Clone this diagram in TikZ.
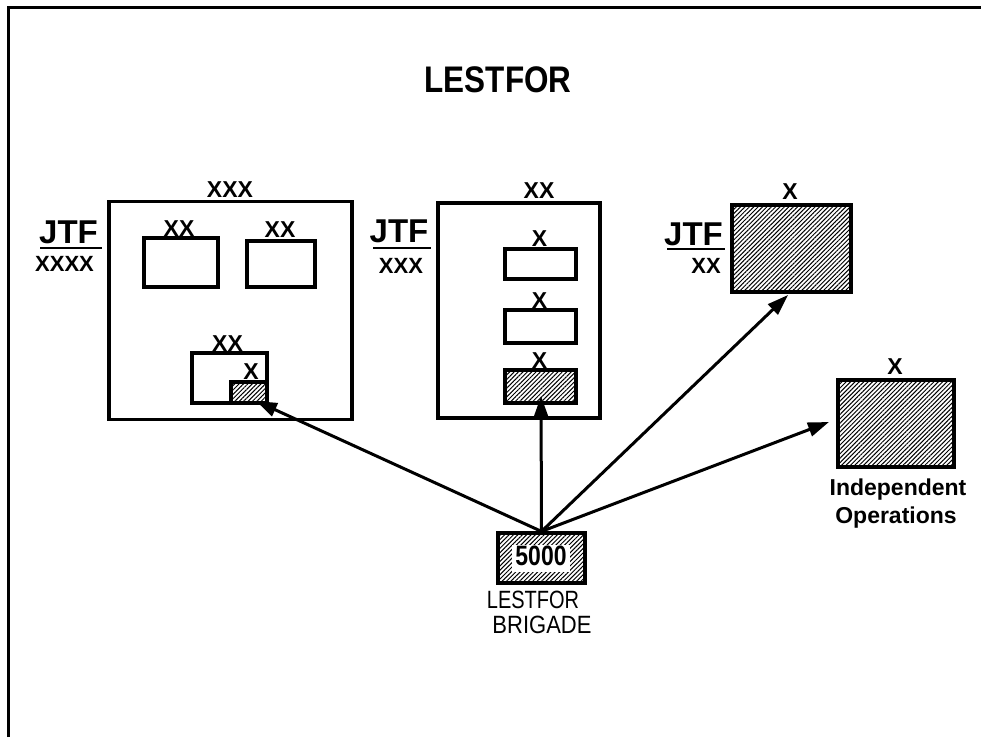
\documentclass[tikz,border=0pt]{standalone}
\usepackage{fontspec}
\usepackage{graphicx}
\setmainfont{Liberation Sans}
\usetikzlibrary{arrows.meta,patterns.meta}
\newcommand\nx[2]{\scalebox{#1}[1]{#2}}
\begin{document}
\begin{tikzpicture}[x=1pt,y=-1pt,
  box/.style={draw,line width=3.2pt,inner sep=0pt,fill=white},
  hbox/.style={box,pattern={Lines[angle=45,distance=3.1pt,line width=1pt]}},
  echelon/.style={inner sep=0pt,font=\fontsize{23}{23}\selectfont\bfseries},
  jtf/.style={inner sep=0pt,anchor=base,font=\fontsize{33}{33}\selectfont\bfseries},
  sub/.style={inner sep=0pt,font=\fontsize{22}{22}\selectfont\bfseries},
  uline/.style={line width=2.6pt},
  arr/.style={line width=3pt,-{Triangle[length=21pt,width=14pt]}},
  txt/.style={inner sep=0pt,anchor=base,font=\fontsize{23}{23}\selectfont\bfseries},
  brl/.style={inner sep=0pt,anchor=base,font=\fontsize{25}{25}\selectfont}]
\useasboundingbox (0,0) rectangle (981,737);
% frame
\draw[line width=3pt] (8,737) -- (8,7) -- (981,7);
% title
\node[inner sep=0pt,anchor=base,font=\fontsize{37}{37}\selectfont\bfseries] (title) at (498,92) {\nx{0.85}{LESTFOR}};
% ---- box 1
\node[box,minimum width=243pt,minimum height=218pt] (b1) at (230.5,310.5) {};
\node[echelon] (b1l) at (230,190) {XXX};
\node[jtf] (j1) at (68.5,243) {JTF};
\draw[uline] (40,248) -- (102,248);
\node[sub] (j1s) at (64.5,264) {XXXX};
\node[box,minimum width=74pt,minimum height=49pt] (d1) at (181,262.5) {};
\node[echelon] (d1l) at (179,229) {XX};
\node[box,minimum width=68pt,minimum height=46pt] (d2) at (281,264) {};
\node[echelon] (d2l) at (280,230) {XX};
\node[box,minimum width=75pt,minimum height=50pt] (d3) at (229.5,378) {};
\node[echelon] (d3l) at (227.5,344) {XX};
\node[hbox,minimum width=36pt,minimum height=21pt] (hs) at (249,392.5) {};
\node[echelon] (hsl) at (251,372) {X};
% ---- box 2
\node[box,minimum width=162pt,minimum height=215pt] (b2) at (519,310.5) {};
\node[echelon] (b2l) at (539,191) {XX};
\node[jtf] (j2) at (399,242) {JTF};
\draw[uline] (373,248) -- (431,248);
\node[sub] (j2s) at (401,266) {XXX};
\node[box,minimum width=71pt,minimum height=30pt] (ba) at (540.5,264) {};
\node[echelon] (bal) at (539.5,239) {X};
\node[box,minimum width=71pt,minimum height=33pt] (bb) at (540.5,326.5) {};
\node[echelon] (bbl) at (539.5,301) {X};
\node[hbox,minimum width=71pt,minimum height=33pt] (bc) at (540.5,386.5) {};
\node[echelon] (bcl) at (539.5,361) {X};
% ---- box 3
\node[hbox,minimum width=119pt,minimum height=87pt] (b3) at (791.5,248.5) {};
\node[echelon] (b3l) at (790,192) {X};
\node[jtf] (j3) at (693.5,245) {JTF};
\draw[uline] (667,249) -- (725,249);
\node[sub] (j3s) at (706,266) {XX};
% ---- box 4
\node[hbox,minimum width=116pt,minimum height=87pt] (b4) at (896,423.5) {};
\node[echelon] (b4l) at (895,366.5) {X};
\node[txt] (ind) at (898,495) {Independent};
\node[txt] (ops) at (896,523) {Operations};
% ---- brigade
\node[hbox,minimum width=87pt,minimum height=50pt] (brig) at (541.5,558) {};
\node[fill=white,inner sep=0pt,minimum width=58pt,minimum height=27pt] (numbg) at (541,558) {};
\node[inner sep=0pt,font=\fontsize{28}{28}\selectfont\bfseries] (num) at (541,556) {\nx{0.82}{5000}};
\node[brl] (bl1) at (533,608) {\nx{0.8}{LESTFOR}};
\node[brl] (bl2) at (542,633) {\nx{0.88}{BRIGADE}};
% ---- arrows
\coordinate (t1) at (256,401);
\coordinate (t2) at (541,396);
\coordinate (t3) at (788,295);
\coordinate (t4) at (829,422);
\draw[arr] (brig.north) -- (t1);
\draw[arr] (brig.north) -- (t2);
\draw[arr] (brig.north) -- (t3);
\draw[arr] (brig.north) -- (t4);
\end{tikzpicture}
\end{document}
